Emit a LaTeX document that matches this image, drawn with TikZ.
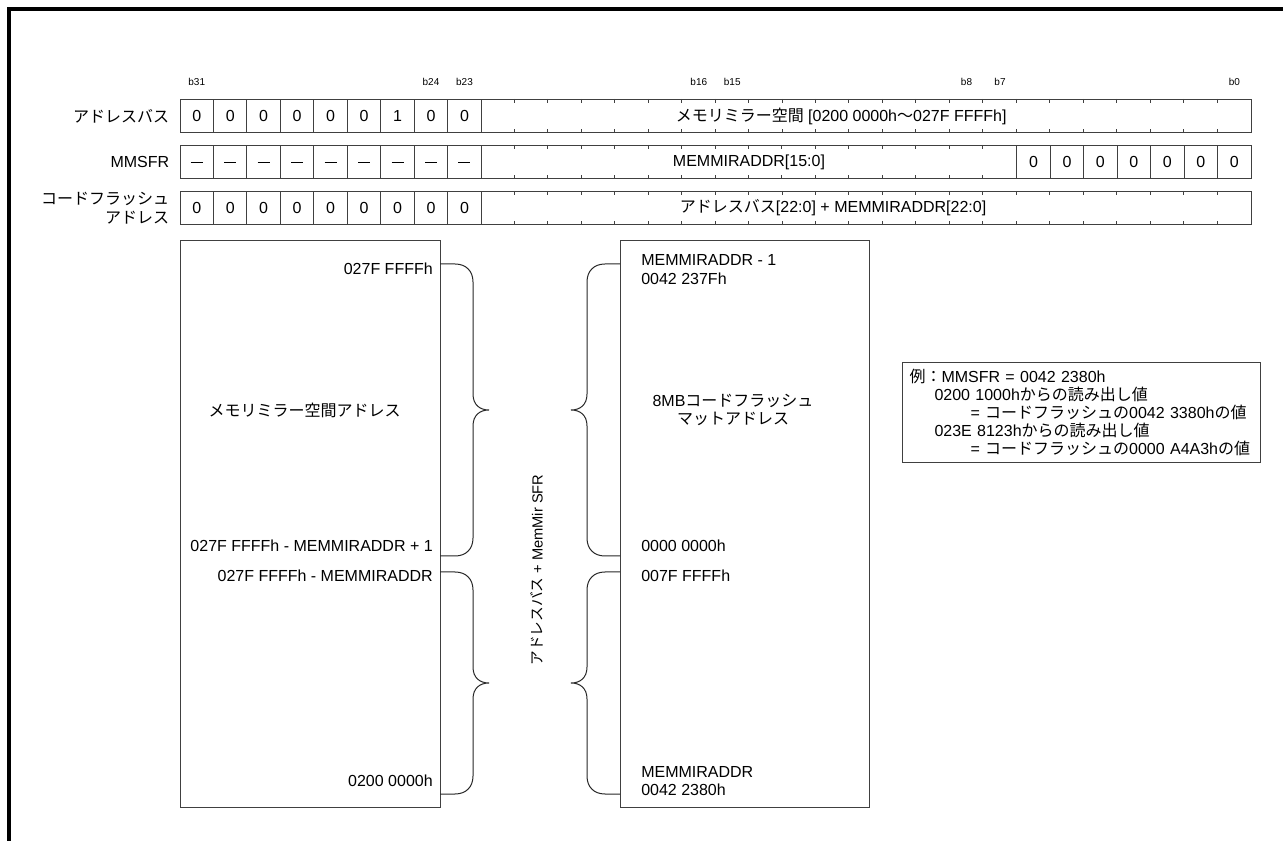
\documentclass[tikz,border=0pt]{standalone}
\usepackage{fontspec}
\setmainfont{Liberation Sans}
\newfontfamily\jp{Noto Sans CJK JP}
\usetikzlibrary{positioning,calc}

\begin{document}
\begin{tikzpicture}[%
    x=0.75pt, y=-0.75pt,      % one unit is one pixel, y runs downward
    font=\fontsize{12}{14}\selectfont,
    every node/.style={inner sep=0pt},
    ]
\tikzset{
  cell/.style={draw=black!75, line width=0.75pt, minimum width=25.1pt, minimum height=25.1pt},
  field/.style={cell, minimum width=#1*25.1pt},
  bitno/.style={font=\fontsize{7.5}{9}\selectfont},
  rowlbl/.style={align=right, font=\fontsize{12}{14.25}\selectfont},
  mapbox/.style={draw=black!75, line width=0.75pt, anchor=north west, minimum height=425.25pt},
  addr/.style={align=left, font=\fontsize{12}{14}\selectfont},
  tk/.style={draw=black!75, line width=0.75pt},
  brc/.style={draw=black!85, line width=0.75pt},
}
\useasboundingbox (0,0) rectangle (1283,841);
% page frame, top and left edge only
\draw[line width=2.6pt] (9,850) -- (9,9) -- (1290,9);

% bit numbers
\foreach \n/\i in {31/0,24/7,23/8,16/15,15/16,8/23,7/24,0/31}
  \node[bitno] (b\n) at ({180+33.47*(\i+0.5)},82) {b\n};

% address bus
\foreach \v [count=\i from 0] in {0,0,0,0,0,0,1,0,0}
  \node[cell] (ab\i) at ({180+33.47*(\i+0.5)},116) {\v};
\node[field=23] (abf) at ({180+33.47*20.5},116) {};
\node (abt) at ($(abf.center)+(-25,0)$) {{\jp メモリミラー空間} [0200 0000h{\jp ～}027F FFFFh]};
\node[rowlbl, left=7.5pt of ab0] (abl) {\jp アドレスバス};

% MMSFR
\foreach \i in {0,...,8}
  \node[cell] (mm\i) at ({180+33.47*(\i+0.5)},162) {\rule{9pt}{0.6pt}};
\node[field=16] (mmf) at ({180+33.47*17},162) {MEMMIRADDR[15:0]};
\foreach \i in {25,...,31}
  \node[cell] (mm\i) at ({180+33.47*(\i+0.5)},162) {0};
\node[rowlbl, left=7.5pt of mm0] (mml) {MMSFR};

% code flash address
\foreach \i in {0,...,8}
  \node[cell] (cf\i) at ({180+33.47*(\i+0.5)},208) {0};
\node[field=23] (cff) at ({180+33.47*20.5},208) {};
\node (cft) at ($(cff.center)+(-33,0)$) {{\jp アドレスバス}[22:0] + MEMMIRADDR[22:0]};
\node[rowlbl, left=7.5pt of cf0] (cfl) {{\jp コードフラッシュ}\\{\jp アドレス}};

% bit ticks inside the wide fields
\foreach \j in {1,...,22} {
  \draw[tk] (abf.north west) ++(33.47*\j,0) -- ++(0,4);
  \draw[tk] (abf.south west) ++(33.47*\j,0) -- ++(0,-4);
  \draw[tk] (cff.north west) ++(33.47*\j,0) -- ++(0,4);
  \draw[tk] (cff.south west) ++(33.47*\j,0) -- ++(0,-4);
}
\foreach \j in {1,...,15} {
  \draw[tk] (mmf.north west) ++(33.47*\j,0) -- ++(0,4);
  \draw[tk] (mmf.south west) ++(33.47*\j,0) -- ++(0,-4);
}

% mirror space and code flash maps
\node[mapbox, minimum width=195pt] (mirror) at (180,240) {};
\node[mapbox, minimum width=186.75pt] (flash) at (620,240) {};

\node[addr, anchor=east] (m1) at ($(mirror.north east)+(-8,29)$) {027F FFFFh};
\node[addr] (m2) at ($(mirror.north)+(-6,170)$) {\jp メモリミラー空間アドレス};
\node[addr, anchor=east] (m3) at ($(mirror.north east)+(-8,306)$) {027F FFFFh - MEMMIRADDR + 1};
\node[addr, anchor=east] (m4) at ($(mirror.north east)+(-8,336)$) {027F FFFFh - MEMMIRADDR};
\node[addr, anchor=east] (m5) at ($(mirror.north east)+(-8,541)$) {0200 0000h};

\node[addr, anchor=west] (f1) at ($(flash.north west)+(21,29.5)$) {MEMMIRADDR - 1\\0042 237Fh};
\node[addr, align=center] (f2) at ($(flash.north west)+(113,170)$) {8MB{\jp コードフラッシュ}\\{\jp マットアドレス}};
\node[addr, anchor=west] (f3) at ($(flash.north west)+(21,306)$) {0000 0000h};
\node[addr, anchor=west] (f4) at ($(flash.north west)+(21,336)$) {007F FFFFh};
\node[addr, anchor=west] (f5) at ($(flash.north west)+(21,541)$) {MEMMIRADDR\\0042 2380h};

\node[rotate=90, font=\fontsize{11}{13}\selectfont] (via) at (537,570) {{\jp アドレスバス} + MemMir SFR};

% braces between the maps
\foreach \e/\s in {440/1,620/-1}
  \foreach \t/\b in {264/556,572/794} {
    \pgfmathsetmacro\m{(\t+\b)/2}
    \draw[brc] (\e,\t) -- (\e+15*\s,\t) .. controls (\e+26*\s,\t) and (\e+33*\s,\t+7) .. (\e+33*\s,\t+18)
      -- (\e+33*\s,\m-16) .. controls (\e+33*\s,\m-5) and (\e+40*\s,\m) .. (\e+49*\s,\m)
      .. controls (\e+40*\s,\m) and (\e+33*\s,\m+5) .. (\e+33*\s,\m+16)
      -- (\e+33*\s,\b-18) .. controls (\e+33*\s,\b-7) and (\e+26*\s,\b) .. (\e+15*\s,\b) -- (\e,\b);
  }

% example
\node[draw=black!75, line width=0.75pt, anchor=north west, align=left, text width=258pt,
      inner xsep=5.25pt, minimum height=75pt, font=\fontsize{12}{13.5}\selectfont] (ex) at (902,362)
  {{\jp 例：}MMSFR = 0042 2380h\\
   \hspace*{18.75pt}0200 1000h{\jp からの読み出し値}\\
   \hspace*{45.75pt}= {\jp コードフラッシュの}0042 3380h{\jp の値}\\
   \hspace*{18.75pt}023E 8123h{\jp からの読み出し値}\\
   \hspace*{45.75pt}= {\jp コードフラッシュの}0000 A4A3h{\jp の値}};
\end{tikzpicture}
\end{document}
